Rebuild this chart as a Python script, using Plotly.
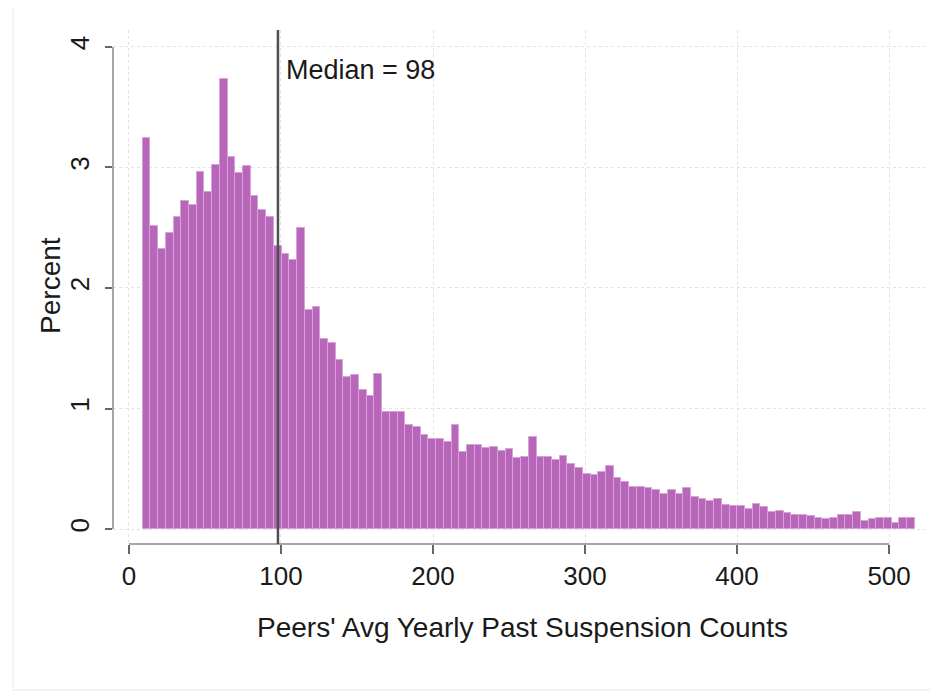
import plotly.graph_objects as go

# ---- data ----
BIN_START = 9.0
BIN_WIDTH = 5.08
percent = [
    3.24, 2.51, 2.32, 2.46, 2.59, 2.72, 2.69, 2.96, 2.80, 3.02,
    3.73, 3.09, 2.95, 3.01, 2.76, 2.65, 2.59, 2.35, 2.28, 2.23,
    2.50, 1.82, 1.84, 1.58, 1.54, 1.40, 1.26, 1.28, 1.15, 1.10,
    1.29, 0.97, 0.97, 0.97, 0.86, 0.85, 0.78, 0.75, 0.75, 0.72,
    0.86, 0.64, 0.70, 0.70, 0.67, 0.68, 0.65, 0.66, 0.59, 0.60,
    0.76, 0.60, 0.60, 0.57, 0.61, 0.54, 0.51, 0.46, 0.45, 0.47,
    0.52, 0.42, 0.39, 0.35, 0.35, 0.34, 0.32, 0.29, 0.32, 0.29,
    0.34, 0.27, 0.25, 0.23, 0.25, 0.20, 0.19, 0.19, 0.17, 0.21,
    0.18, 0.14, 0.15, 0.13, 0.12, 0.12, 0.11, 0.09, 0.08, 0.09,
    0.12, 0.12, 0.14, 0.07, 0.08, 0.09, 0.09, 0.05, 0.09, 0.09,
]
MEDIAN = 98
x_ticks = [0, 100, 200, 300, 400, 500]
y_ticks = [0, 1, 2, 3, 4]
x_title = "Peers' Avg Yearly Past Suspension Counts"
y_title = "Percent"
median_label = f"Median = {MEDIAN}"

bin_centers = [BIN_START + BIN_WIDTH * (i + 0.5) for i in range(len(percent))]

FONT = "Liberation Sans, Arial, sans-serif"
TXT = "#1a1a1a"
AXC = "#8a8a8a"

fig = go.Figure()
fig.add_trace(go.Bar(
    x=bin_centers, y=percent, width=BIN_WIDTH,
    marker=dict(color="#b766b9", line=dict(color="#d6a2d7", width=1)),
    hoverinfo="x+y",
))

fig.update_layout(
    width=930, height=685,
    margin=dict(l=105, r=10, t=22, b=149),
    paper_bgcolor="white", plot_bgcolor="white",
    showlegend=False, bargap=0,
    font=dict(family=FONT, size=26, color=TXT),
    xaxis=dict(
        range=[-10.5, 525.6], tickvals=x_ticks, ticktext=[str(v) for v in x_ticks],
        showline=False, zeroline=False,
        showgrid=True, gridcolor="#e2e2e2", griddash="dot", gridwidth=1,
        ticks="outside", ticklen=9, tickwidth=1.5, tickcolor="#666",
        ticklabelstandoff=0,
        tickfont=dict(size=26, color=TXT, family=FONT),
    ),
    yaxis=dict(
        range=[-0.124, 4.14], tickvals=y_ticks, ticktext=[str(v) for v in y_ticks],
        showline=False, zeroline=False,
        showgrid=True, gridcolor="#e2e2e2", griddash="dot", gridwidth=1,
        ticks="outside", ticklen=7, tickwidth=1.5, tickcolor="#666",
        tickangle=-90, ticklabelstandoff=6,
        tickfont=dict(size=26, color=TXT, family=FONT),
    ),
)

# axis lines spanning first to last tick (Stata style)
fig.add_shape(type="line", xref="paper", yref="y", x0=0, x1=0,
              y0=y_ticks[0], y1=y_ticks[-1], line=dict(color=AXC, width=1.5))
fig.add_shape(type="line", xref="x", yref="paper", x0=x_ticks[0], x1=x_ticks[-1],
              y0=0, y1=0, line=dict(color=AXC, width=1.5))

# median line
fig.add_shape(type="line", xref="x", yref="paper", x0=MEDIAN, x1=MEDIAN,
              y0=0, y1=1, line=dict(color="#505050", width=2.5), layer="above")

# faint outer frame
fig.add_shape(type="rect", xref="paper", yref="paper",
              x0=-0.1227, x1=1.02, y0=-0.284, y1=1.0467,
              line=dict(color="#f0f0f0", width=1.5), layer="below")

fig.add_annotation(x=MEDIAN, y=3.81, xref="x", yref="y", text=median_label,
                   showarrow=False, xanchor="left", yanchor="middle", xshift=6,
                   font=dict(size=27, color=TXT, family=FONT))
fig.add_annotation(x=0.503, y=-0.1615, xref="paper", yref="paper", text=x_title,
                   showarrow=False, xanchor="center", yanchor="middle",
                   font=dict(size=28, color=TXT, family=FONT))
fig.add_annotation(x=-0.0761, y=0.504, xref="paper", yref="paper", text=y_title,
                   showarrow=False, xanchor="center", yanchor="middle", textangle=-90,
                   font=dict(size=28, color=TXT, family=FONT))

fig.write_html("out.html")
